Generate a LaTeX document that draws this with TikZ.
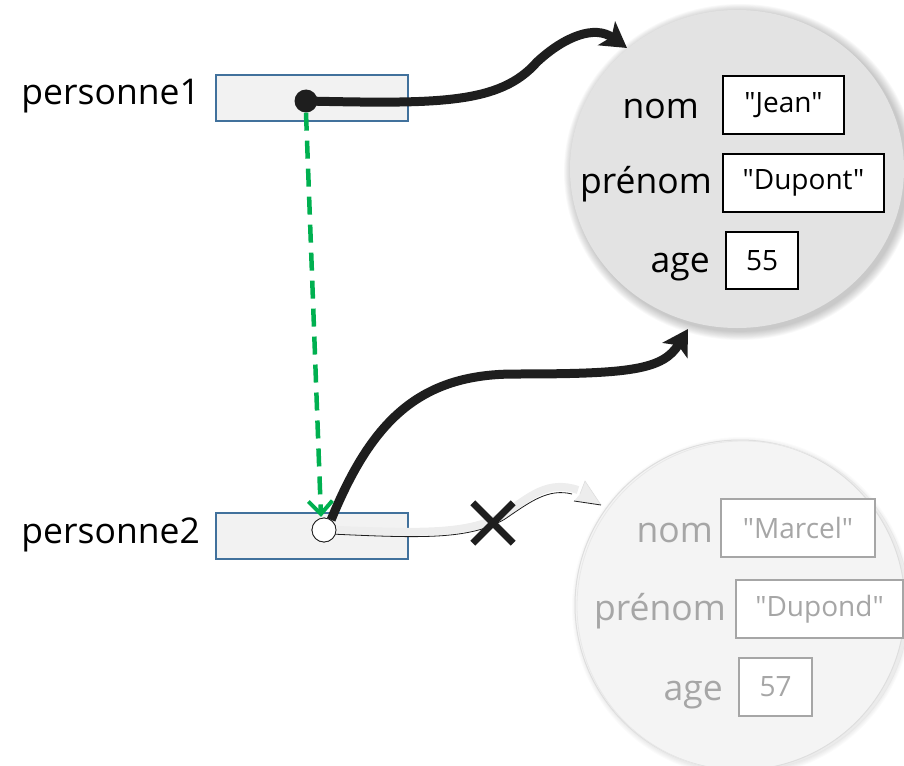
\documentclass[tikz,border=0pt]{standalone}
\usepackage{fontspec}
\setmainfont{Open Sans}
% plain font instance without TeX ligature mapping, so that " stays straight
\font\valfont="Open Sans" at 28pt
\usetikzlibrary{arrows.meta}
\definecolor{refblue}{HTML}{41719C}
\definecolor{reffill}{HTML}{F2F2F2}
\definecolor{objfill}{HTML}{E3E3E3}
\definecolor{ghostfill}{HTML}{F4F4F4}
\definecolor{ghostrim}{HTML}{DEDEDE}
\definecolor{ghosttext}{HTML}{A6A6A6}
\definecolor{ghostband}{HTML}{EDEDED}
\definecolor{ink}{HTML}{1E1E1E}
\definecolor{copygreen}{HTML}{00B050}
\begin{document}
\begin{tikzpicture}[x=1pt,y=-1pt,
  lbl/.style={font=\fontsize{35.5}{40}\selectfont, inner sep=0pt, anchor=base east},
  ghostlbl/.style={lbl, text=ghosttext},
  valbox/.style={draw=black, line width=1.5pt, fill=white, inner sep=0pt, font=\valfont},
  ghostbox/.style={valbox, draw=ghosttext, text=ghosttext},
  refbox/.style={draw=refblue, fill=reffill, line width=2.2pt,
    minimum width=192pt, minimum height=46pt, inner sep=0pt},
  fulldot/.style={circle, fill=ink, minimum size=23pt, inner sep=0pt},
  emptydot/.style={circle, draw=ink, fill=white, line width=0.8pt, minimum size=24pt, inner sep=0pt},
  pointer/.style={draw=ink, line width=9pt,
    -{Stealth[length=25pt, width=29pt, inset=6pt]}},
  copyline/.style={draw=copygreen, line width=4.5pt, dash pattern=on 18pt off 10pt,
    -{Straight Barb[length=13pt, width=24pt, line width=4pt]}},
]
\useasboundingbox (0,0) rectangle (904,765);
\clip (0,0) rectangle (904,765);

% --- object "Marcel" (no longer referenced) ---
\foreach \i in {1,...,5}
  \fill[black, opacity=0.014] (742,607) ellipse ({165+\i} and {165+\i});
\fill[ghostfill] (740,605) ellipse (165 and 165);
\draw[ghostrim, line width=1pt] (740,605) ellipse (165 and 165);
\draw[ghostrim!70, line width=0.8pt] (743,606) ellipse (166 and 165);

\node[ghostlbl] (gnom) at (713,542) {nom};
\node[ghostlbl] (gprenom) at (726,620) {prénom};
\node[ghostlbl] (gage) at (723,700) {age};
\node[ghostbox, minimum width=154pt, minimum height=58pt] (gv1) at (798,528) {"Marcel"};
\node[ghostbox, minimum width=167pt, minimum height=58pt] (gv2) at (819.5,609) {"Dupond"};
\node[ghostbox, minimum width=73pt, minimum height=58pt] (gv3) at (775.5,687) {57};

% --- object "Jean" ---
\foreach \i in {1,...,10}
  \fill[black, opacity=0.025] (740,172) ellipse ({167+0.9*\i} and {159+0.9*\i});
\fill[objfill] (737,169) ellipse (167 and 159);

\node[lbl] (nom) at (699,118) {nom};
\node[lbl] (prenom) at (712,193) {prénom};
\node[lbl] (age) at (710,272) {age};
\node[valbox, minimum width=121pt, minimum height=58pt] (v1) at (783.5,105) {"Jean"};
\node[valbox, minimum width=161pt, minimum height=58pt] (v2) at (803.5,183) {"Dupont"};
\node[valbox, minimum width=72pt, minimum height=57pt] (v3) at (762,260.5) {55};

\coordinate (o1in) at (627,48);
\coordinate (o2in) at (688,329);
\coordinate (o3in) at (601,505);

% --- reference variables ---
\node[lbl] (l1) at (200,105) {personne1};
\node[lbl] (l2) at (200,543) {personne2};
\node[refbox] (p1) at (312,98) {};
\node[refbox] (p2) at (312,536) {};

\node[fulldot] (d1) at (306,101) {};
\node[emptydot] (d2) at (324,530) {};
\coordinate (d2top) at (321,517);

% old link of personne2, crossed out
\draw[ghostband, line width=8pt, yshift=4pt]
  (d2.east) .. controls (420,537) and (470,539) .. (505,518)
  .. controls (530,500) and (548,484) .. (578,494);
\draw[ink, line width=0.8pt]
  (d2.-20) .. controls (420,538) and (470,540) .. (505,519)
  .. controls (530,502) and (548,488) .. (572,494);
\fill[ghostband] (585,481) -- (o3in) -- (574,501) -- (580,494) -- cycle;
\draw[ghostrim, line width=0.6pt] (580,494) -- (585,481) -- (o3in);
\draw[ink, line width=0.8pt] (574,501) -- (o3in);
\node[inner sep=0pt, minimum size=40pt] (cross) at (493,523) {};
\draw[ink, line width=7pt] (cross.north west) -- (cross.south east)
  (cross.north east) -- (cross.south west);

% references to the "Jean" object
\draw[pointer] (d1.center) .. controls (440,104) and (500,104) .. (537,62)
  .. controls (565,36) and (595,25) .. (o1in);
\draw[pointer] (d2.55) .. controls (372,420) and (420,374) .. (515,374)
  .. controls (630,374) and (663,370) .. (o2in);
\node[emptydot] at (d2) {};

% assignment personne2 = personne1
\draw[copyline] (d1.south) -- (d2top);
\end{tikzpicture}
\end{document}
